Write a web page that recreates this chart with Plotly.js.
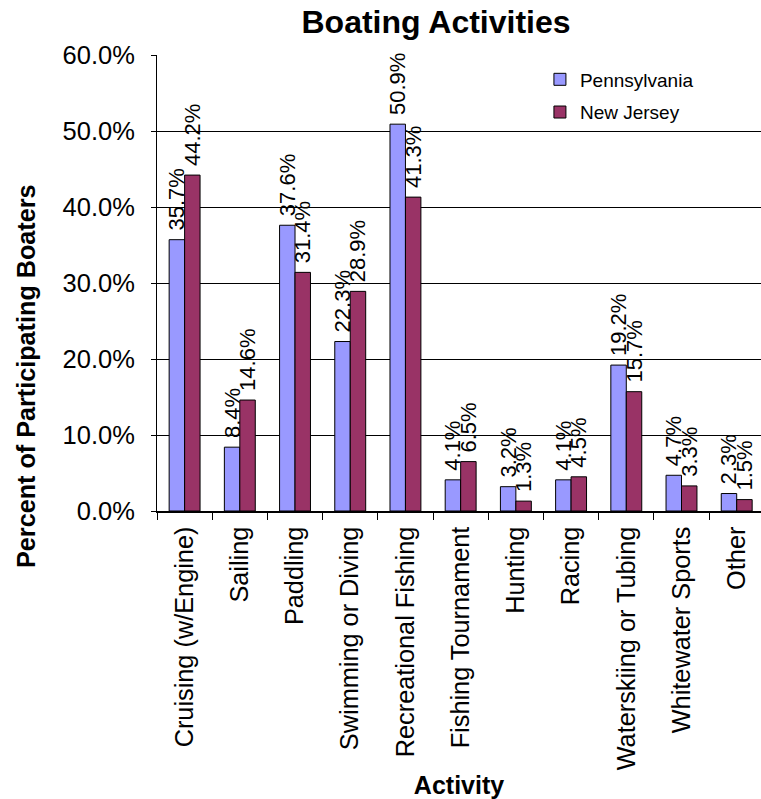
<!DOCTYPE html>
<html>
<head>
<meta charset="utf-8">
<script src="https://cdn.plot.ly/plotly-3.0.1.min.js"></script>
<style>html,body{margin:0;padding:0;background:#fff;overflow:hidden;}</style>
</head>
<body>
<div id="chart" style="width:761px;height:799px;"></div>
<script>
const categories = ["Cruising (w/Engine)", "Sailing", "Paddling", "Swimming or Diving", "Recreational Fishing", "Fishing Tournament", "Hunting", "Racing", "Waterskiing or Tubing", "Whitewater Sports", "Other"];
const pennsylvania = [35.7, 8.4, 37.6, 22.3, 50.9, 4.1, 3.2, 4.1, 19.2, 4.7, 2.3];
const newJersey = [44.2, 14.6, 31.4, 28.9, 41.3, 6.5, 1.3, 4.5, 15.7, 3.3, 1.5];
const yTicks = [0, 10, 20, 30, 40, 50, 60];

const FONT = "Liberation Sans, Arial, sans-serif";
const fmt = v => v.toFixed(1) + "%";
const lab = v => "\u00A0" + fmt(v);

const traces = [
  {
    type: "bar", name: "Pennsylvania", x: categories, y: pennsylvania,
    marker: {color: "#9999FF", line: {color: "#000000", width: 1}},
    text: pennsylvania.map(lab), textposition: "outside", textangle: -90,
    constraintext: "none", cliponaxis: false,
    textfont: {family: FONT, size: 22, color: "#000"},
    legendgroup: "pa", hoverinfo: "x+y"
  },
  {
    type: "bar", name: "New Jersey", x: categories, y: newJersey,
    marker: {color: "#993366", line: {color: "#000000", width: 1}},
    text: newJersey.map(lab), textposition: "outside", textangle: -90,
    constraintext: "none", cliponaxis: false,
    textfont: {family: FONT, size: 22, color: "#000"},
    legendgroup: "nj", hoverinfo: "x+y"
  }
];

const layout = {
  width: 761, height: 799,
  paper_bgcolor: "#fff", plot_bgcolor: "#fff",
  font: {family: FONT, color: "#000"},
  margin: {l: 157, r: 0, t: 55, b: 288, pad: 0},
  barmode: "group", bargap: 0.44, bargroupgap: 0,
  title: {text: "<b>Boating Activities</b>", font: {family: FONT, size: 32, color: "#000"},
          x: 0.573, xanchor: "center", xref: "container", y: 0.973, yanchor: "middle", yref: "container"},
  xaxis: {
    type: "category", range: [-0.5, 10.44],
    showline: true, linecolor: "#000", linewidth: 1.5,
    ticks: "outside", tickson: "boundaries", ticklen: 7, tickcolor: "#000", tickwidth: 1,
    tickangle: -90, tickfont: {family: FONT, size: 25.3, color: "#000"},
    ticklabelstandoff: 4,
    showgrid: false, zeroline: false,
    title: {text: "<b>Activity</b>", font: {family: FONT, size: 25, color: "#000"}, standoff: 12}
  },
  yaxis: {
    range: [0, 60], tickvals: yTicks, ticktext: yTicks.map(fmt),
    showline: true, linecolor: "#000", linewidth: 1,
    ticks: "outside", ticklen: 5, tickcolor: "#000",
    tickfont: {family: FONT, size: 25.5, color: "#000"},
    ticklabelstandoff: 11,
    showgrid: true, gridcolor: "#000", gridwidth: 1, zeroline: false
  },
  showlegend: true,
  legend: {
    x: 0.634, xanchor: "left", y: 0.988, yanchor: "top",
    font: {family: FONT, size: 19, color: "#000"},
    bgcolor: "rgba(255,255,255,0)", borderwidth: 0,
    traceorder: "grouped", tracegroupgap: 5, itemwidth: 30
  },
  annotations: [
    {text: "<b>Percent of Participating Boaters</b>", textangle: -90,
     xref: "paper", yref: "paper", x: -0.217, y: 0.296, xanchor: "center", yanchor: "middle",
     showarrow: false, font: {family: FONT, size: 25.2, color: "#000"}}
  ]
};

Plotly.newPlot("chart", traces, layout, {displayModeBar: false, staticPlot: true});
</script>
</body>
</html>
